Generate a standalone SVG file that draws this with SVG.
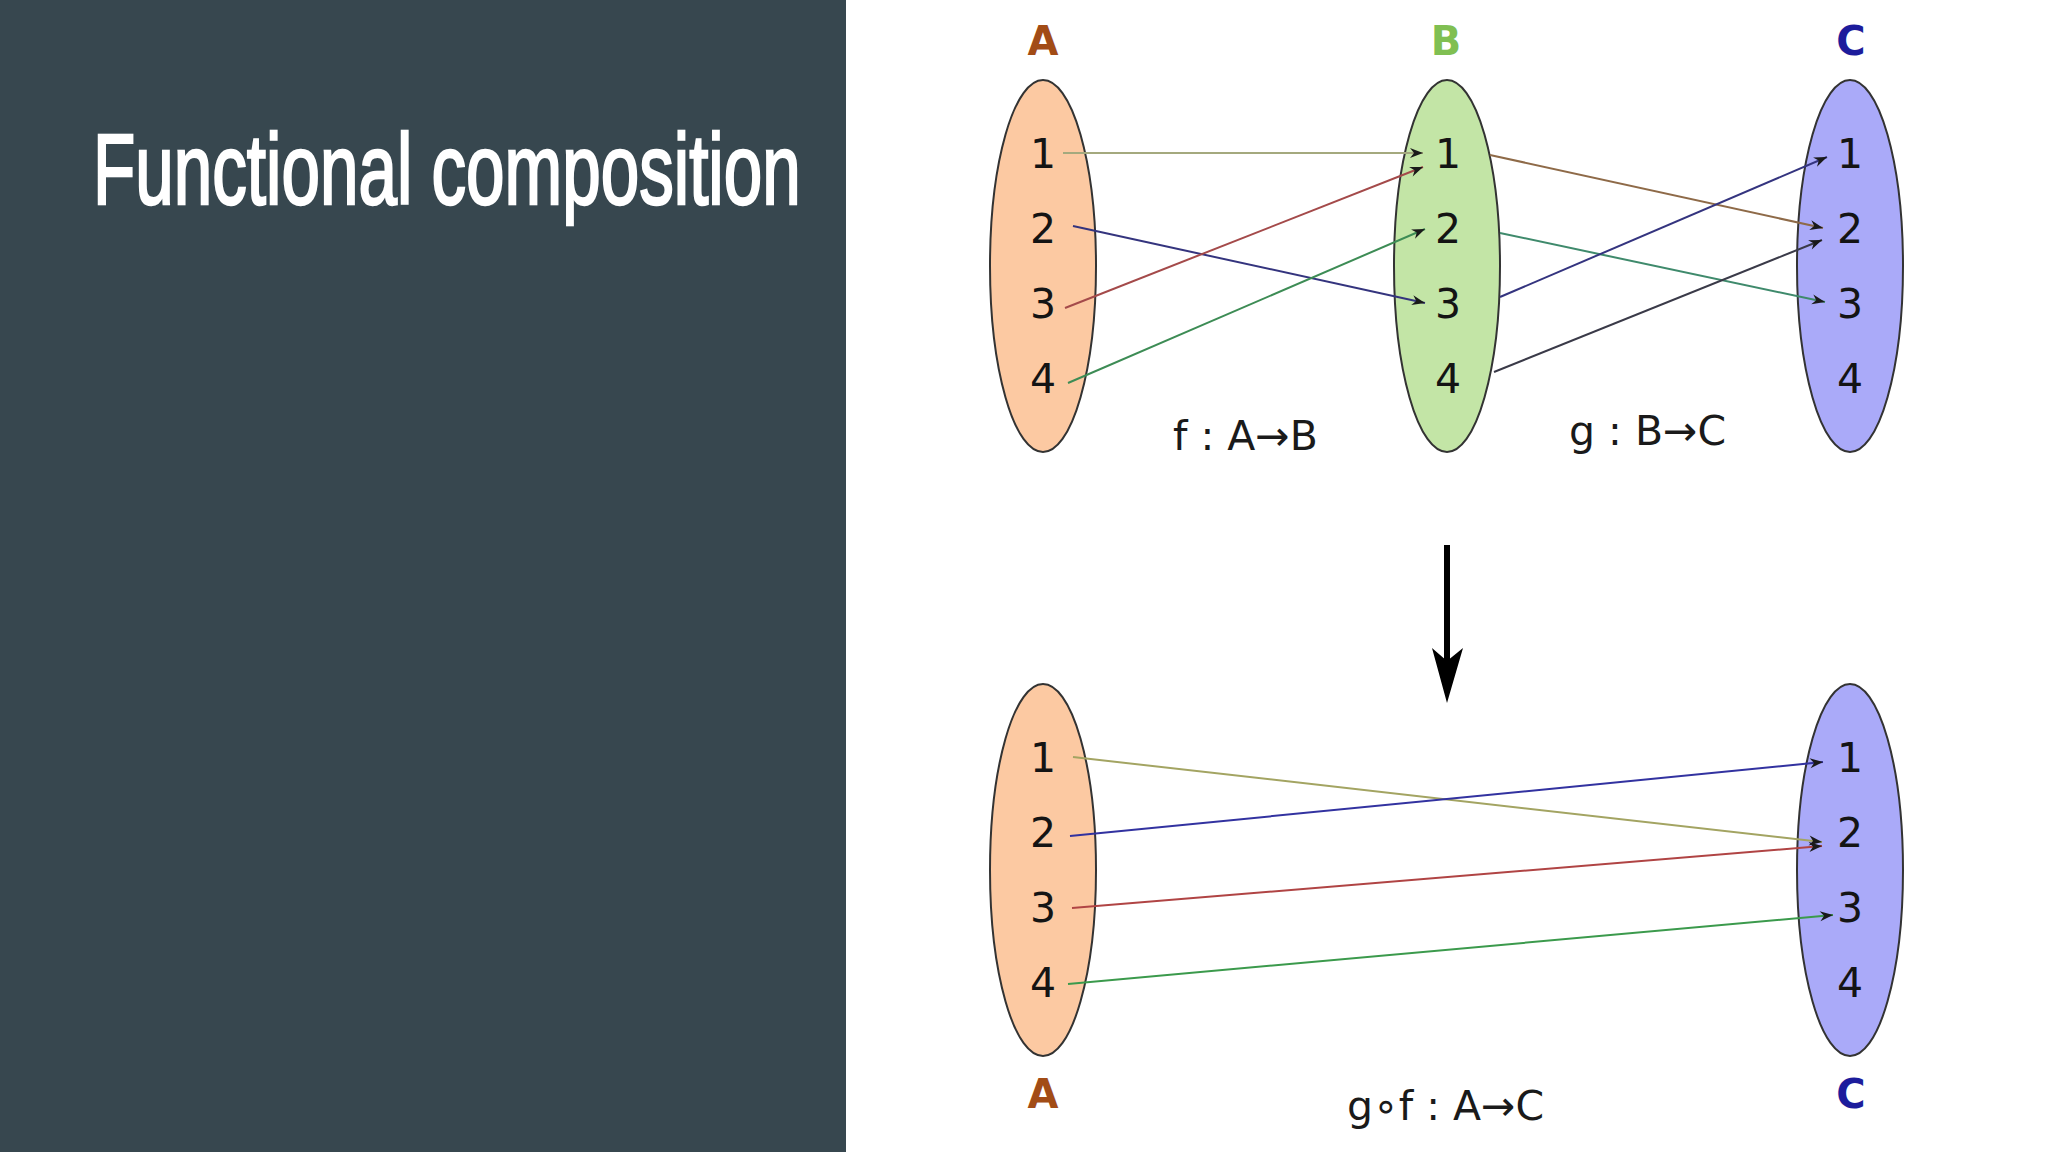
<svg xmlns="http://www.w3.org/2000/svg" width="2048" height="1152" viewBox="0 0 2048 1152">
  <style>
    .num { font-family: "DejaVu Sans", "Liberation Sans", sans-serif; font-size: 41px; fill: #141414; text-anchor: middle; }
    .lbl { font-family: "DejaVu Sans", "Liberation Sans", sans-serif; font-size: 41px; fill: #1a1a1a; }
    .set { font-family: "DejaVu Sans", "Liberation Sans", sans-serif; font-size: 40px; font-weight: bold; text-anchor: middle; }
    .ell { stroke: #333333; stroke-width: 2; }
    .edge { fill: none; stroke-width: 2; marker-end: url(#dart); }
  </style>
  <defs>
    <marker id="dart" markerUnits="userSpaceOnUse" viewBox="-14 -6 15 12" markerWidth="15" markerHeight="12" refX="0" refY="0" orient="auto">
      <path d="M0,0 L-13,-5 L-9,0 L-13,5 Z" fill="#1a1a1a"/>
    </marker>
  </defs>

  <rect x="0" y="0" width="2048" height="1152" fill="#ffffff"/>
  <rect id="panel" x="0" y="0" width="846" height="1152" fill="#37474f"/>
  <text id="title" transform="translate(93,204) scale(0.692,1)" x="0" y="0" font-family="Liberation Sans, Arial, sans-serif" font-size="100" fill="#ffffff" stroke="#ffffff" stroke-width="2.5">Functional composition</text>

  <g id="setA-top">
    <ellipse class="ell" cx="1043" cy="266" rx="53" ry="186" fill="#fcc9a2"/>
    <text class="set" x="1043" y="55" fill="#a24c16">A</text>
    <text class="num" x="1043" y="168">1</text>
    <text class="num" x="1043" y="243">2</text>
    <text class="num" x="1043" y="318">3</text>
    <text class="num" x="1043" y="393">4</text>
  </g>
  <g id="setB-top">
    <ellipse class="ell" cx="1447" cy="266" rx="53" ry="186" fill="#c3e5a6"/>
    <text class="set" x="1446" y="55" fill="#80bf52">B</text>
    <text class="num" x="1448" y="168">1</text>
    <text class="num" x="1448" y="243">2</text>
    <text class="num" x="1448" y="318">3</text>
    <text class="num" x="1448" y="393">4</text>
  </g>
  <g id="setC-top">
    <ellipse class="ell" cx="1850" cy="266" rx="53" ry="186" fill="#aaaaf9"/>
    <text class="set" x="1851" y="55" fill="#1c1c9c">C</text>
    <text class="num" x="1850" y="168">1</text>
    <text class="num" x="1850" y="243">2</text>
    <text class="num" x="1850" y="318">3</text>
    <text class="num" x="1850" y="393">4</text>
  </g>
  <g id="setA-bottom">
    <ellipse class="ell" cx="1043" cy="870" rx="53" ry="186" fill="#fcc9a2"/>
    <text class="set" x="1043" y="1108" fill="#a24c16">A</text>
    <text class="num" x="1043" y="772">1</text>
    <text class="num" x="1043" y="847">2</text>
    <text class="num" x="1043" y="922">3</text>
    <text class="num" x="1043" y="997">4</text>
  </g>
  <g id="setC-bottom">
    <ellipse class="ell" cx="1850" cy="870" rx="53" ry="186" fill="#aaaaf9"/>
    <text class="set" x="1851" y="1108" fill="#1c1c9c">C</text>
    <text class="num" x="1850" y="772">1</text>
    <text class="num" x="1850" y="847">2</text>
    <text class="num" x="1850" y="922">3</text>
    <text class="num" x="1850" y="997">4</text>
  </g>

  <g id="labels">
    <text class="lbl" x="1173" y="450">f : A→B</text>
    <text class="lbl" x="1569" y="445">g : B→C</text>
    <text class="lbl" x="1347" y="1120">g∘f : A→C</text>
  </g>

  <g id="connectors">
    <line class="edge" x1="1063" y1="153" x2="1423" y2="153" stroke="#a4a97e"/>
    <line class="edge" x1="1073" y1="226" x2="1425" y2="303" stroke="#34347e"/>
    <line class="edge" x1="1065" y1="308" x2="1423" y2="167" stroke="#a44a4a"/>
    <line class="edge" x1="1068" y1="383" x2="1425" y2="229" stroke="#3d8c55"/>

    <line class="edge" x1="1490" y1="155" x2="1823" y2="228" stroke="#8e6a48"/>
    <line class="edge" x1="1500" y1="233" x2="1825" y2="302" stroke="#3f8a6c"/>
    <line class="edge" x1="1500" y1="297" x2="1827" y2="157" stroke="#34347f"/>
    <line class="edge" x1="1494" y1="372" x2="1822" y2="240" stroke="#3a3a48"/>

    <line class="edge" x1="1073" y1="757" x2="1822" y2="842" stroke="#a3a462"/>
    <line class="edge" x1="1070" y1="836" x2="1823" y2="762" stroke="#3232a0"/>
    <line class="edge" x1="1072" y1="908" x2="1822" y2="846" stroke="#b04444"/>
    <line class="edge" x1="1068" y1="984" x2="1833" y2="915" stroke="#3b9a4c"/>

    <g id="compose-arrow">
      <line x1="1447" y1="545" x2="1447" y2="662" stroke="#000000" stroke-width="6"/>
      <path d="M1447,703 L1432,648 L1447,661 L1463,648 Z" fill="#000000"/>
    </g>
  </g>
</svg>
